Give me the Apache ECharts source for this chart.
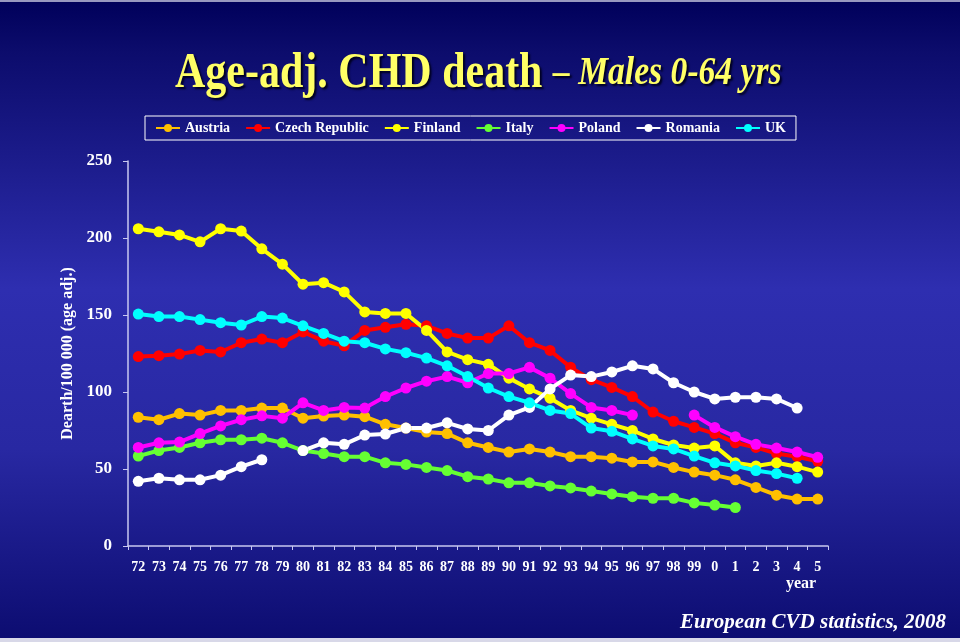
<!DOCTYPE html>
<html>
<head>
<meta charset="utf-8">
<script src="https://cdn.jsdelivr.net/npm/echarts@6/dist/echarts.min.js"></script>
<style>
html,body{margin:0;padding:0;background:#10106e;}
#chart{width:960px;height:642px;}
</style>
</head>
<body>
<div id="chart"></div>
<script>
var years = ['72','73','74','75','76','77','78','79','80','81','82','83','84','85','86','87','88','89','90','91','92','93','94','95','96','97','98','99','0','1','2','3','4','5'];
var yTicks = [0, 50, 100, 150, 200, 250];
var seriesNames = ['Austria','Czech Republic','Finland','Italy','Poland','Romania','UK'];

var austria = [83.6,82,86,85,88,88,89.6,89.6,83,84.4,85,84, 79,76.6,74,73,67,64,61,63,61,58,58,57, 54.6,54.6,51,48,46,43,38,33,30.5,30.5];
var czech = [123,123.6,124.6,127,126,132,134.4,132,139,133,130,140, 142,144,143,138,135,135,143,132,127,116,108,103, 97,87,81,77,73,67,64,60,58,55];
var finland = [206,204,202,197.5,206,204.5,193,183,170,171,165,152, 151,151,140,126,121,118,109,102,96,88,83,79, 75,69.5,65.6,63.6,65,54,52,54,51.5,48];
var italy = [58.4,62,64,67,69,69,70,67,62,60,58,58, 54,53,51,49,45,43.5,41,41,39,37.7,35.7,33.8, 32,31,31,28,26.6,25,null,null,null,null];
var poland = [64,67,67.5,73,78,82,84.5,83,93,88,90,89.6, 97,102.6,107,110,106,112,112,116,109,99,90,88, 85,null,null,85,77,71,66,63.6,61,57.6];
var romania = [42,44,43,43,46,51.5,56,null,62,67,66,72, 72.7,76.6,76.6,80,76,75,85,90,102,111,110,113, 117,115,106,100,95.5,96.6,96.6,95.5,89.6,null];
var uk = [150.6,149,149,147,145,143.5,149,148,143,138,133,132, 128,125.5,122,117,110,102.6,97,93,88,86,76.6,74.5, 69.5,65,63,58.4,54,52,49,47,44,null];

var colors = ['#ffc000','#ff0000','#ffff00','#66ff33','#ff00ff','#ffffff','#00ffff'];
var allData = [austria, czech, finland, italy, poland, romania, uk];

var serif = '"Liberation Serif","DejaVu Serif",serif';

var chart = echarts.init(document.getElementById('chart'), null, {renderer:'canvas'});

var series = seriesNames.map(function(n, i){
  return {
    name: n,
    type: 'line',
    data: allData[i],
    connectNulls: false,
    symbol: 'circle',
    symbolSize: 11,
    lineStyle: {width: 4, color: colors[i]},
    itemStyle: {color: colors[i]},
    animation: false
  };
});

chart.setOption({
  animation: false,
  backgroundColor: {
    type: 'linear', x: 0, y: 0, x2: 0, y2: 1,
    colorStops: [
      {offset: 0, color: '#00005a'},
      {offset: 0.08, color: '#0c0c6c'},
      {offset: 0.45, color: '#2e2eb0'},
      {offset: 0.7, color: '#2828a2'},
      {offset: 1, color: '#0c0c70'}
    ]
  },
  color: colors,
  legend: {
    left: 145, top: 116,
    width: 800,
    padding: [5, 10],
    itemGap: 15,
    itemWidth: 24,
    itemHeight: 10,
    borderColor: '#ffffff',
    borderWidth: 1,
    textStyle: {color: '#ffffff', fontFamily: serif, fontWeight: 'bold', fontSize: 14},
    data: seriesNames
  },
  grid: {left: 128, top: 161, width: 700, height: 385},
  xAxis: {
    type: 'category',
    data: years,
    boundaryGap: true,
    axisLine: {lineStyle: {color: '#c8c8f0', width: 1.5}},
    axisTick: {show: true, length: 4, lineStyle: {color: '#c8c8f0'}},
    axisLabel: {color: '#ffffff', fontFamily: serif, fontWeight: 'bold', fontSize: 14, margin: 14, interval: 0}
  },
  yAxis: {
    type: 'value',
    min: 0, max: 250, interval: 50,
    name: 'Dearth/100 000 (age adj.)',
    nameLocation: 'middle',
    nameGap: 52,
    nameTextStyle: {color: '#ffffff', fontFamily: serif, fontWeight: 'bold', fontSize: 16},
    axisLine: {show: true, lineStyle: {color: '#c8c8f0', width: 1.5}},
    axisTick: {show: true, length: 5, lineStyle: {color: '#c8c8f0'}},
    splitLine: {show: false},
    axisLabel: {color: '#ffffff', fontFamily: serif, fontWeight: 'bold', fontSize: 17, margin: 16,
      formatter: function(v){ return yTicks.indexOf(v) >= 0 ? String(v) : ''; }}
  },
  graphic: [
    {type: 'rect', left: 0, top: 0, shape: {width: 960, height: 2}, style: {fill: '#9898c0'}, silent: true},
    {type: 'rect', left: 0, top: 638, shape: {width: 960, height: 4}, style: {fill: '#d8d8e8'}, silent: true},
    {
      type: 'text', left: 175, top: 49, scaleX: 0.84,
      style: {
        text: '{a|Age-adj. CHD death }{b|– Males 0-64 yrs}',
        rich: {
          a: {fontFamily: serif, fontWeight: 'bold', fontSize: 50, fill: '#ffff66', textShadowColor: '#000020', textShadowOffsetX: 2, textShadowOffsetY: 2, textShadowBlur: 2},
          b: {fontFamily: serif, fontWeight: 'bold', fontStyle: 'italic', fontSize: 40, fill: '#ffff66', textShadowColor: '#000020', textShadowOffsetX: 2, textShadowOffsetY: 2, textShadowBlur: 2}
        }
      }
    },
    {type: 'text', left: 786, top: 576, style: {text: 'year', fill: '#ffffff', font: 'bold 16px ' + serif}},
    {type: 'text', left: 680, top: 612, style: {text: 'European CVD statistics, 2008', fill: '#ffffff', font: 'italic bold 21px ' + serif}}
  ],
  series: series
});
</script>
</body>
</html>
